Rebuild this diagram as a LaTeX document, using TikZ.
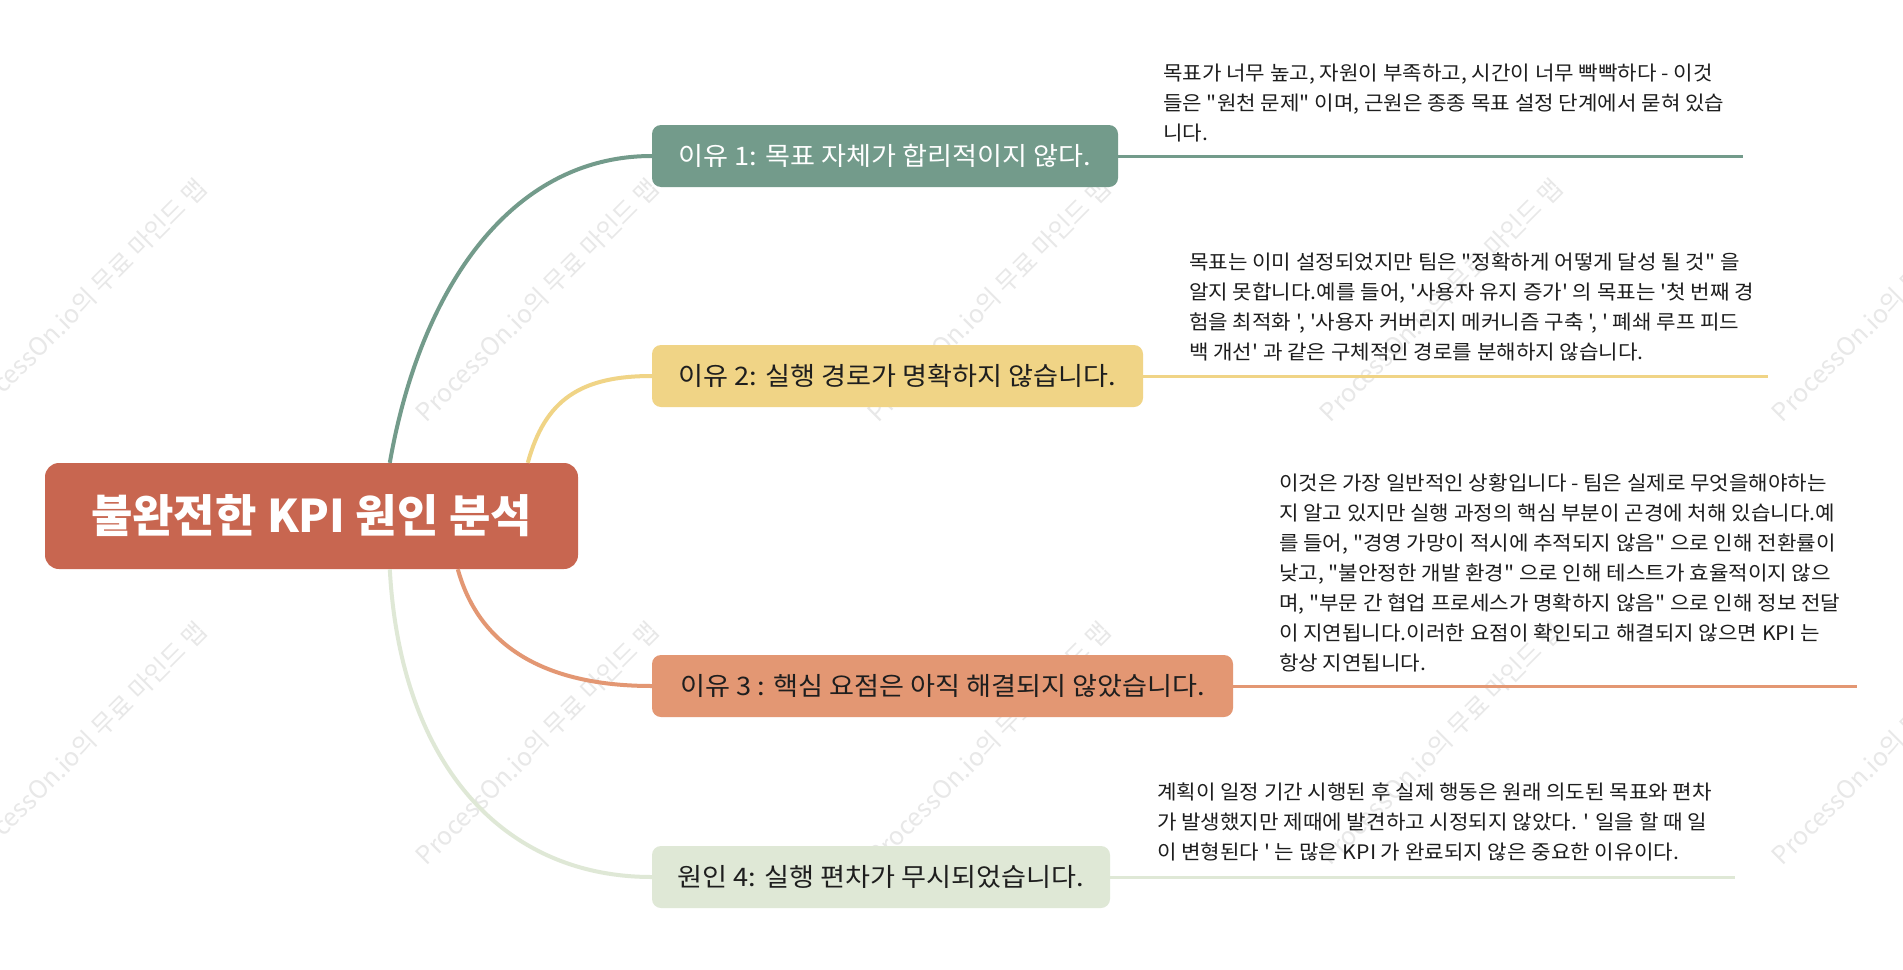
\documentclass[tikz,border=0pt]{standalone}
\usepackage{fontspec}
\newfontfamily\krfont{Noto Sans CJK KR}
\newfontfamily\krnote{Noto Sans CJK KR}[FakeStretch=1.06]
\newfontfamily\krbranch{Noto Sans CJK KR}[FakeStretch=1.065]
\usetikzlibrary{calc}
\definecolor{rootc}{HTML}{C86650}
\definecolor{bcA}{HTML}{739B8B}
\definecolor{bcB}{HTML}{F0D486}
\definecolor{bcC}{HTML}{E39773}
\definecolor{bcD}{HTML}{DFE8D6}
\definecolor{inkc}{HTML}{1E1E1E}
\definecolor{wmc}{HTML}{E8E8E8}
\tikzset{
  rootbox/.style={rounded corners=14pt, fill=rootc, text=white, minimum width=533, minimum height=106, inner sep=0pt,
    font=\krfont\bfseries\fontsize{45}{52}\selectfont},
  branchbox/.style={rounded corners=9pt, minimum height=62, inner sep=0pt, text=inkc,
    font=\krbranch\fontsize{25.5}{30}\selectfont},
  notetext/.style={anchor=north west, align=left, inner sep=0pt, text=inkc,
    font=\krnote\fontsize{20}{30}\selectfont},
  wmark/.style={text=wmc, rotate=45, inner sep=0pt, font=\krfont\fontsize{25}{30}\selectfont},
  curveline/.style={line width=4pt},
  tailline/.style={line width=3pt},
}
\begin{document}
\begin{tikzpicture}[x=1pt,y=-1pt]
\useasboundingbox (0,0) rectangle (1903,969);
\fill[white] (0,0) rectangle (1903,969);
% watermarks
\foreach \wx/\wn in {85/a,537/b,989/c,1441/d,1893/e}{
  \node[wmark] (wt\wn) at (\wx,300) {ProcessOn.io의 무료 마인드 맵};
  \node[wmark] (wb\wn) at (\wx,743) {ProcessOn.io의 무료 마인드 맵};
}
% root
\node[rootbox] (root) at (311.5,516) {불완전한 KPI 원인 분석};
% branches
\node[branchbox, fill=bcA, text=white, minimum width=466] (b1) at (885,156) {이유 1: 목표 자체가 합리적이지 않다.};
\node[branchbox, fill=bcB, minimum width=491] (b2) at (897.5,376) {이유 2: 실행 경로가 명확하지 않습니다.};
\node[branchbox, fill=bcC, minimum width=581] (b3) at (942.5,686) {이유 3 : 핵심 요점은 아직 해결되지 않았습니다.};
\node[branchbox, fill=bcD, minimum width=458] (b4) at (881,877) {원인 4: 실행 편차가 무시되었습니다.};
% curves root -> branches
\draw[curveline, bcA] ([xshift=345pt]root.north west) .. controls (420,290) and (510,156) .. (b1.west);
\draw[curveline, bcB] ([xshift=483pt]root.north west) .. controls (545,400) and (580,376) .. (b2.west);
\draw[curveline, bcC] ([xshift=413pt]root.south west) .. controls (480,650) and (550,686) .. (b3.west);
\draw[curveline, bcD] ([xshift=345pt]root.south west) .. controls (400,760) and (500,877) .. (b4.west);
% tail lines
\coordinate (e1) at (1743,156);
\coordinate (e2) at (1768,376);
\coordinate (e3) at (1857,686);
\coordinate (e4) at (1735,877);
\draw[tailline, bcA] (b1.east) -- (e1);
\draw[tailline, bcB] (b2.east) -- (e2);
\draw[tailline, bcC] (b3.east) -- (e3);
\draw[tailline, bcD] (b4.east) -- (e4);
% notes
\node[notetext] (n1) at (1163,64) {목표가 너무 높고, 자원이 부족하고, 시간이 너무 빡빡하다 - 이것\\
들은 "원천 문제" 이며, 근원은 종종 목표 설정 단계에서 묻혀 있습\\
니다.};
\node[notetext] (n2) at (1189,253) {목표는 이미 설정되었지만 팀은 "정확하게 어떻게 달성 될 것" 을\\
알지 못합니다.예를 들어, '사용자 유지 증가' 의 목표는 '첫 번째 경\\
험을 최적화 ', '사용자 커버리지 메커니즘 구축 ', ' 폐쇄 루프 피드\\
백 개선' 과 같은 구체적인 경로를 분해하지 않습니다.};
\node[notetext] (n3) at (1279,474) {이것은 가장 일반적인 상황입니다 - 팀은 실제로 무엇을해야하는\\
지 알고 있지만 실행 과정의 핵심 부분이 곤경에 처해 있습니다.예\\
를 들어, "경영 가망이 적시에 추적되지 않음" 으로 인해 전환률이\\
낮고, "불안정한 개발 환경" 으로 인해 테스트가 효율적이지 않으\\
며, "부문 간 협업 프로세스가 명확하지 않음" 으로 인해 정보 전달\\
이 지연됩니다.이러한 요점이 확인되고 해결되지 않으면 KPI 는\\
항상 지연됩니다.};
\node[notetext] (n4) at (1157,783) {계획이 일정 기간 시행된 후 실제 행동은 원래 의도된 목표와 편차\\
가 발생했지만 제때에 발견하고 시정되지 않았다. ' 일을 할 때 일\\
이 변형된다 ' 는 많은 KPI 가 완료되지 않은 중요한 이유이다.};
\end{tikzpicture}
\end{document}
